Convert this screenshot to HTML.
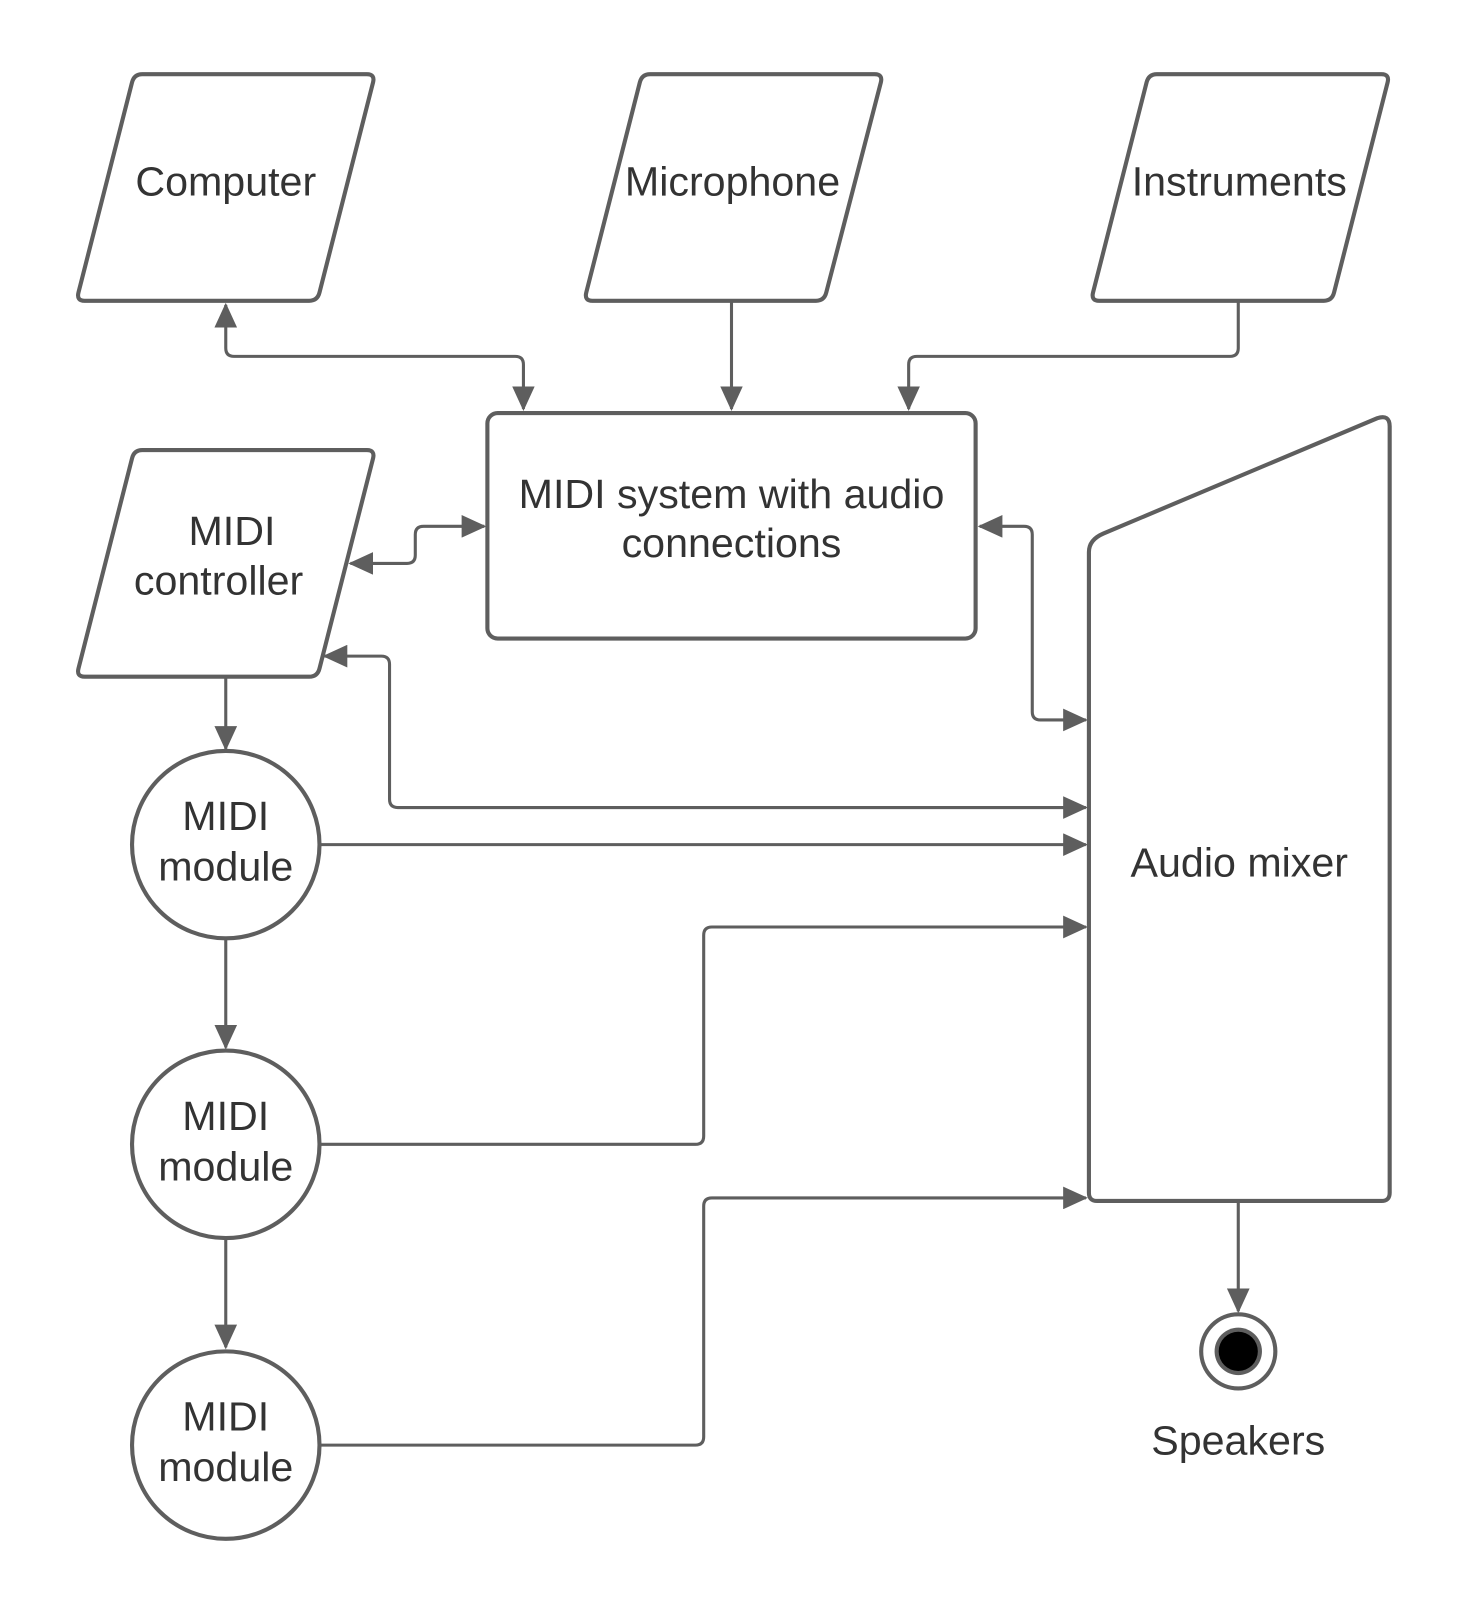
<!DOCTYPE html>
<html><head><meta charset="utf-8"><style>
html,body{margin:0;padding:0;background:#fff}
svg{display:block}
text{font-family:"Liberation Sans",sans-serif;font-size:40px;fill:#333;text-anchor:middle}
</style></head><body>
<svg width="1463" height="1613" viewBox="0 0 1420 1566" xmlns="http://www.w3.org/2000/svg">
<defs>
<marker id="a" markerWidth="24" markerHeight="22" refX="22" refY="11" orient="auto" markerUnits="userSpaceOnUse">
<path d="M0,0 L24,11 L0,22 Z" fill="#5e5e5e"/></marker>
<marker id="s" markerWidth="24" markerHeight="22" refX="2" refY="11" orient="auto" markerUnits="userSpaceOnUse">
<path d="M24,0 L0,11 L24,22 Z" fill="#5e5e5e"/></marker>
</defs>
<g fill="#fff" stroke="#5e5e5e" stroke-width="4" stroke-linejoin="round">
<path d="M138,72 L356,72 Q364,72 362,80 L310,284 Q308,292 300,292 L82,292 Q74,292 76,284 L128,80 Q130,72 138,72 Z"/>
<path d="M631,72 L849,72 Q857,72 855,80 L802,284 Q800,292 792,292 L575,292 Q567,292 569,284 L621,80 Q623,72 631,72 Z"/>
<path d="M1123,72 L1341,72 Q1349,72 1347,80 L1295,284 Q1293,292 1285,292 L1067,292 Q1059,292 1061,284 L1113,80 Q1115,72 1123,72 Z"/>
<path d="M138,437 L356,437 Q364,437 362,445 L310,649 Q308,657 300,657 L82,657 Q74,657 76,649 L128,445 Q130,437 138,437 Z"/>
<rect x="473" y="401" width="474" height="219" rx="10"/>
<path d="M1071,518 L1337,406 Q1349,402 1349,414 L1349,1158 Q1349,1166 1341,1166 L1065,1166 Q1057,1166 1057,1158 L1057,536 Q1057,524 1071,518 Z"/>
<circle cx="219" cy="820" r="91"/>
<circle cx="219" cy="1111" r="91"/>
<circle cx="219" cy="1403" r="91"/>
<circle cx="1202" cy="1312" r="36"/>
</g>
<circle cx="1202" cy="1312" r="23" fill="#5e5e5e"/>
<circle cx="1202" cy="1312" r="19" fill="#000"/>
<g fill="none" stroke="#5e5e5e" stroke-width="3">
<path d="M219,296 L219,338 Q219,346 227,346 L500,346 Q508,346 508,354 L508,397" marker-start="url(#s)" marker-end="url(#a)"/>
<path d="M710,292 L710,397" marker-end="url(#a)"/>
<path d="M1202,292 L1202,338 Q1202,346 1194,346 L890,346 Q882,346 882,354 L882,397" marker-end="url(#a)"/>
<path d="M340,547 L395,547 Q403,547 403,539 L403,519 Q403,511 411,511 L470,511" marker-start="url(#s)" marker-end="url(#a)"/>
<path d="M951,511 L994,511 Q1002,511 1002,519 L1002,691 Q1002,699 1010,699 L1054,699" marker-start="url(#s)" marker-end="url(#a)"/>
<path d="M315,637 L370,637 Q378,637 378,645 L378,776 Q378,784 386,784 L1054,784" marker-start="url(#s)" marker-end="url(#a)"/>
<path d="M310,820 L1054,820" marker-end="url(#a)"/>
<path d="M310,1111 L675,1111 Q683,1111 683,1103 L683,908 Q683,900 691,900 L1054,900" marker-end="url(#a)"/>
<path d="M310,1403 L675,1403 Q683,1403 683,1395 L683,1171 Q683,1163 691,1163 L1054,1163" marker-end="url(#a)"/>
<path d="M219,657 L219,727" marker-end="url(#a)"/>
<path d="M219,911 L219,1017" marker-end="url(#a)"/>
<path d="M219,1202 L219,1308" marker-end="url(#a)"/>
<path d="M1202,1166 L1202,1273" marker-end="url(#a)"/>
</g>
<text x="219" y="190">Computer</text>
<text x="711" y="190">Microphone</text>
<text x="1203" y="190">Instruments</text>
<text x="225" y="529">MIDI</text>
<text x="212" y="577">controller</text>
<text x="710" y="493">MIDI system with audio</text>
<text x="710" y="541">connections</text>
<text x="1203" y="851">Audio mixer</text>
<text x="219" y="806">MIDI</text>
<text x="219" y="855">module</text>
<text x="219" y="1097">MIDI</text>
<text x="219" y="1146">module</text>
<text x="219" y="1389">MIDI</text>
<text x="219" y="1438">module</text>
<text x="1202" y="1412">Speakers</text>
</svg>
</body></html>
